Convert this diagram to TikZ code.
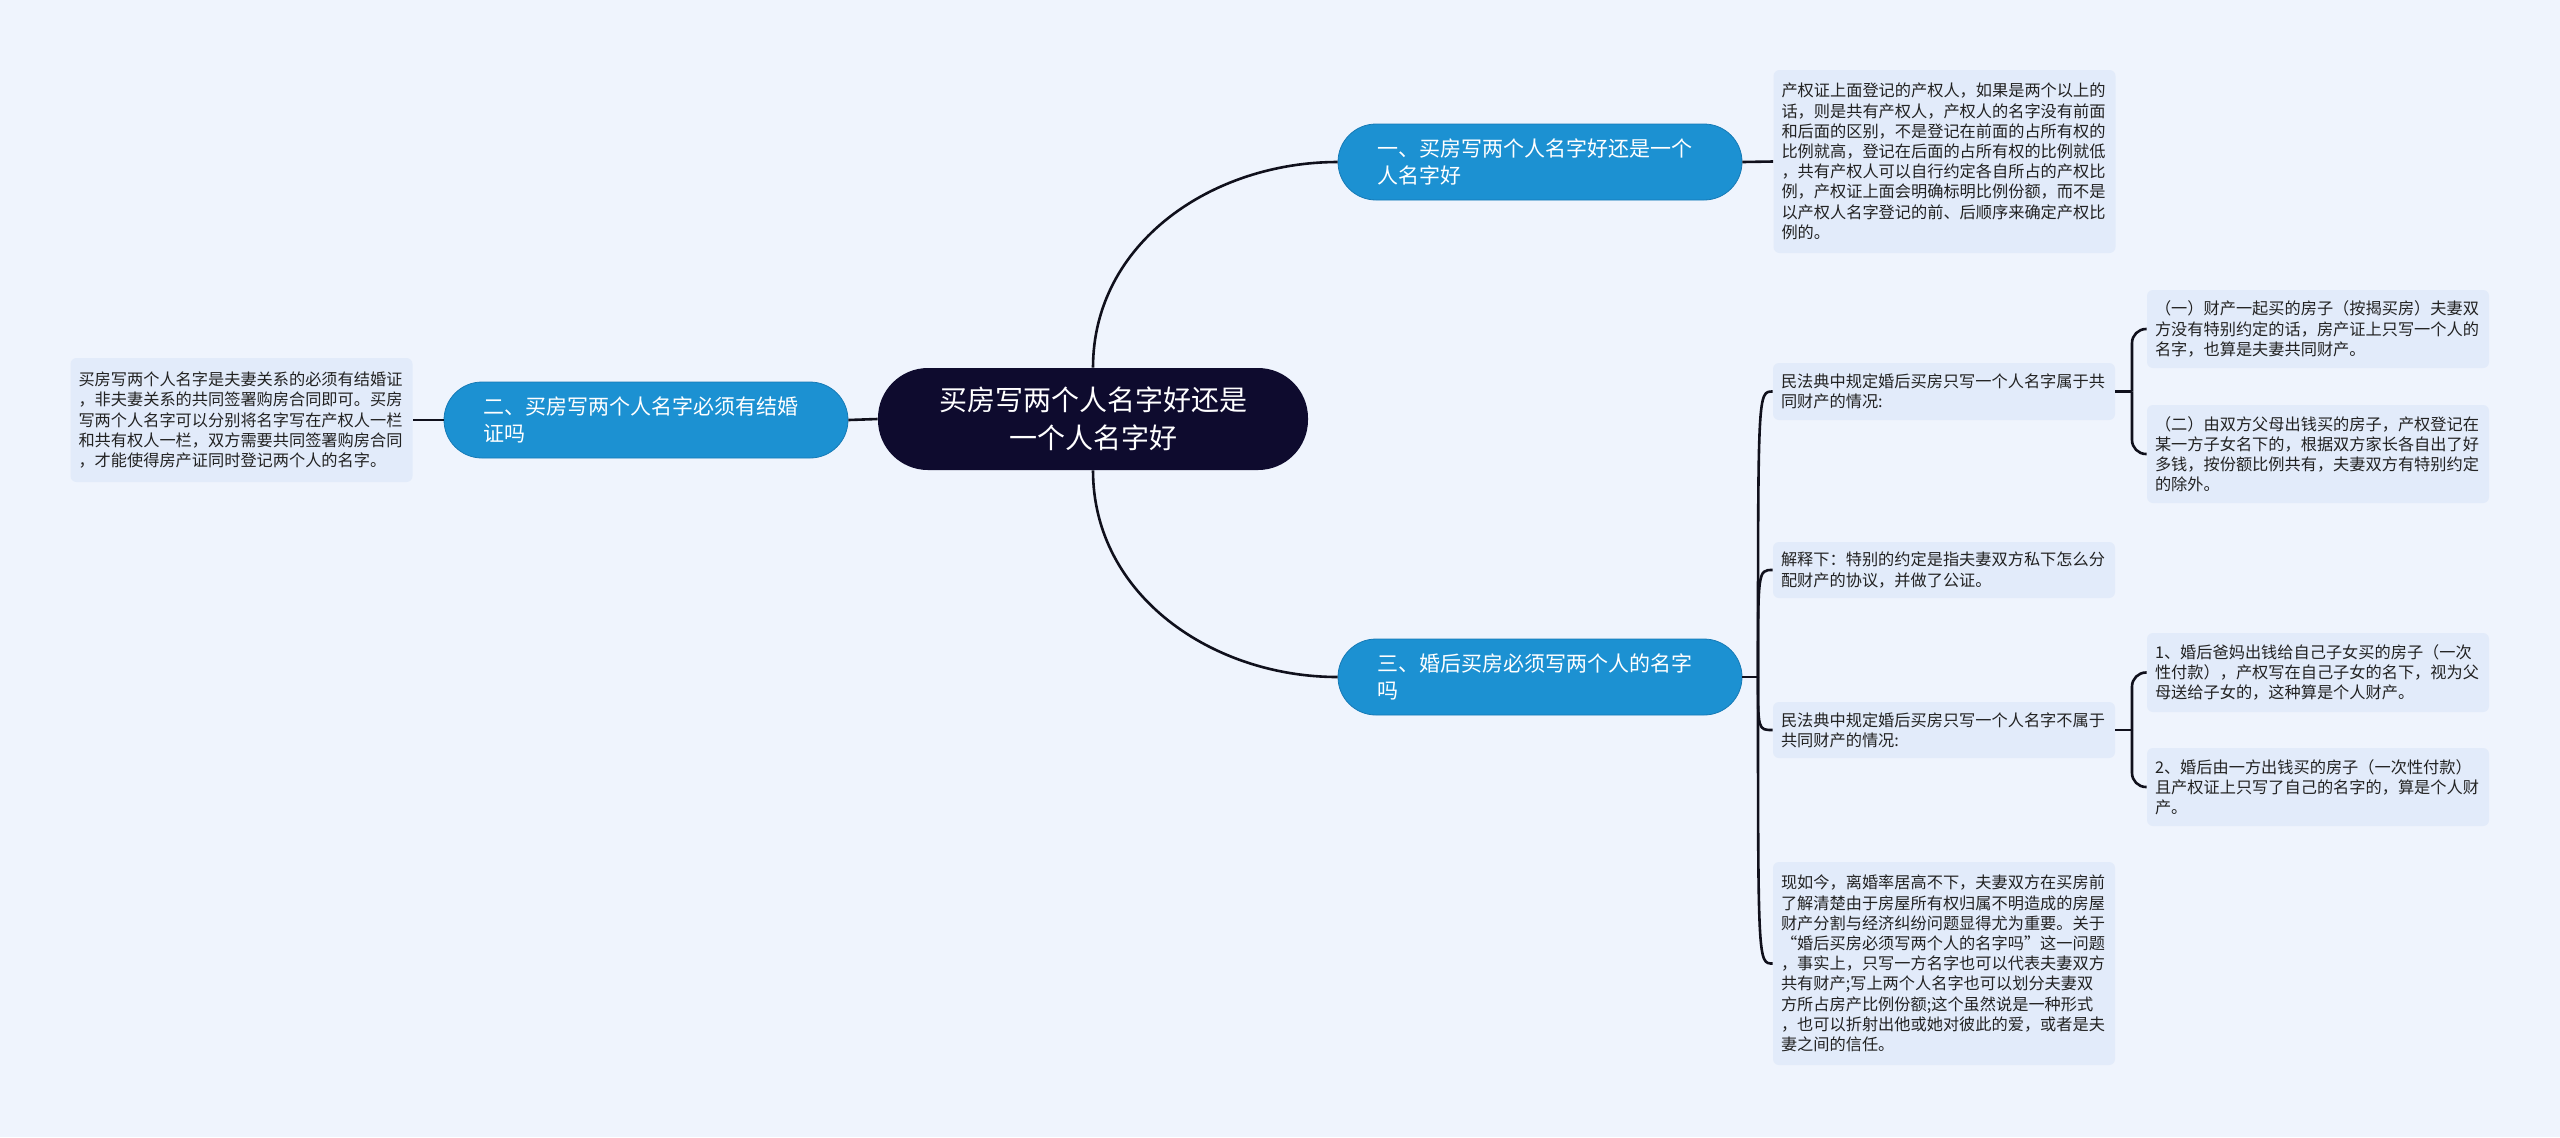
\documentclass[tikz,border=0pt]{standalone}
\usepackage{fontspec}
\setmainfont{Noto Sans CJK SC}
\usepackage{xcolor}
\usepackage{tikz}
\usetikzlibrary{positioning,calc}
\definecolor{bgpale}{RGB}{239,244,253}
\definecolor{leafblue}{RGB}{226,235,250}
\definecolor{branchblue}{RGB}{28,145,210}
\definecolor{branchedge}{RGB}{22,122,182}
\definecolor{rootnavy}{RGB}{14,11,46}
\definecolor{linkdark}{RGB}{16,16,28}
\definecolor{leaftext}{RGB}{34,34,34}
\tikzset{
  rootbox/.style  ={fill=rootnavy,text=white,rounded corners=25pt,minimum width=215pt,minimum height=51pt,align=center,inner sep=0pt,font=\fontsize{14}{19}\selectfont},
  branchbox/.style={fill=branchblue,draw=branchedge,text=white,rounded corners=19pt,text width=162.5pt,inner xsep=19.75pt,inner ysep=0pt,minimum height=38pt,align=left,font=\fontsize{10.5}{13.5}\selectfont},
  leafbox/.style  ={fill=leafblue,text=leaftext,rounded corners=3pt,text width=163pt,inner xsep=4pt,inner ysep=2pt,align=left,font=\fontsize{8.1}{10.1}\selectfont},
  link/.style     ={draw=linkdark,line width=1.3pt},
}

\begin{document}
\begin{tikzpicture}[x=0.5pt,y=-0.5pt]
\fill[bgpale] (0,0) rectangle (2560,1137);
\useasboundingbox (0,0) rectangle (2560,1137);

\node[rootbox] (root) at (1093,419) {买房写两个人名字好还是\\一个人名字好};

\node[branchbox] (b1) at (1540,162) {一、买房写两个人名字好还是一个\\人名字好};
\node[branchbox] (b2) at (646,420) {二、买房写两个人名字必须有结婚\\证吗};
\node[branchbox] (b3) at (1540,677) {三、婚后买房必须写两个人的名字\\吗};

\node[leafbox,minimum height=91.5pt] (t1) at (1944.5,161.5) {产权证上面登记的产权人，如果是两个以上的\\话，则是共有产权人，产权人的名字没有前面\\和后面的区别，不是登记在前面的占所有权的\\比例就高，登记在后面的占所有权的比例就低\\，共有产权人可以自行约定各自所占的产权比\\例，产权证上面会明确标明比例份额，而不是\\以产权人名字登记的前、后顺序来确定产权比\\例的。};
\node[leafbox,minimum height=62pt] (t2) at (241.5,420) {买房写两个人名字是夫妻关系的必须有结婚证\\，非夫妻关系的共同签署购房合同即可。买房\\写两个人名字可以分别将名字写在产权人一栏\\和共有权人一栏，双方需要共同签署购房合同\\，才能使得房产证同时登记两个人的名字。};

\node[leafbox,minimum height=28.5pt] (c1) at (1944,391.5) {民法典中规定婚后买房只写一个人名字属于共\\同财产的情况:};
\node[leafbox,minimum height=28pt] (c2) at (1944,570) {解释下：特别的约定是指夫妻双方私下怎么分\\配财产的协议，并做了公证。};
\node[leafbox,minimum height=28pt] (c3) at (1944,730) {民法典中规定婚后买房只写一个人名字不属于\\共同财产的情况:};
\node[leafbox,minimum height=101.5pt] (c4) at (1944,963.5) {现如今，离婚率居高不下，夫妻双方在买房前\\了解清楚由于房屋所有权归属不明造成的房屋\\财产分割与经济纠纷问题显得尤为重要。关于\\“婚后买房必须写两个人的名字吗”这一问题\\，事实上，只写一方名字也可以代表夫妻双方\\共有财产;写上两个人名字也可以划分夫妻双\\方所占房产比例份额;这个虽然说是一种形式\\，也可以折射出他或她对彼此的爱，或者是夫\\妻之间的信任。};

\node[leafbox,minimum height=39pt] (d1) at (2318,329) {（一）财产一起买的房子（按揭买房）夫妻双\\方没有特别约定的话，房产证上只写一个人的\\名字，也算是夫妻共同财产。};
\node[leafbox,minimum height=49pt] (d2) at (2318,454) {（二）由双方父母出钱买的房子，产权登记在\\某一方子女名下的，根据双方家长各自出了好\\多钱，按份额比例共有，夫妻双方有特别约定\\的除外。};
\node[leafbox,minimum height=39.5pt] (e1) at (2318,672.5) {1、婚后爸妈出钱给自己子女买的房子（一次\\性付款），产权写在自己子女的名下，视为父\\母送给子女的，这种算是个人财产。};
\node[leafbox,minimum height=39pt] (e2) at (2318,787) {2、婚后由一方出钱买的房子（一次性付款）\\且产权证上只写了自己的名字的，算是个人财\\产。};

\coordinate (j3) at (1758,677);
\coordinate (k1) at (2132,391.5);
\coordinate (k3) at (2132,730);

\draw[link] (root.north) to[out=90,in=180] (b1.west);
\draw[link] (root.south) to[out=-90,in=180] (b3.west);
\draw[link] (b2.east) -- (root.west);
\draw[link] (b1.east) -- (t1.west);
\draw[link] (t2.east) -- (b2.west);

\draw[link] (b3.east) -- (j3);
\foreach \c in {c1,c2,c3,c4}
  \draw[link] (j3) .. controls (j3|-\c.west) .. (\c.west);

\draw[link] (c1.east) -- (k1);
\draw[link,rounded corners=7pt] (k1) |- (d1.west);
\draw[link,rounded corners=7pt] (k1) |- (d2.west);
\draw[link] (c3.east) -- (k3);
\draw[link,rounded corners=7pt] (k3) |- (e1.west);
\draw[link,rounded corners=7pt] (k3) |- (e2.west);
\end{tikzpicture}
\end{document}
